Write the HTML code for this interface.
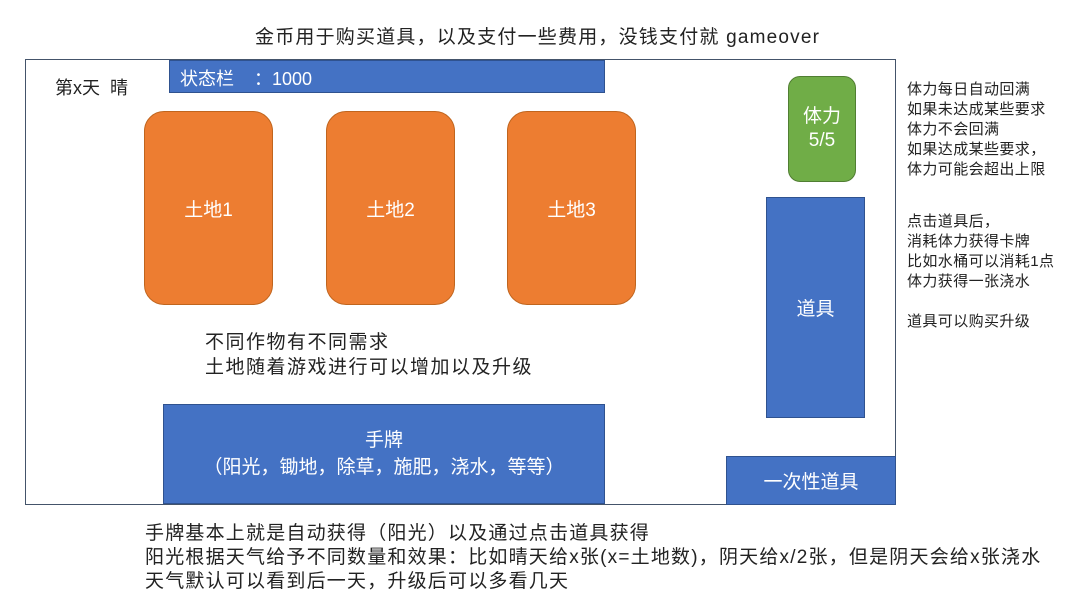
<!DOCTYPE html>
<html><head><meta charset="utf-8"><style>
body{margin:0;width:1080px;height:605px;background:#fff;font-family:"Liberation Sans","Noto Sans CJK SC",sans-serif;position:relative;overflow:hidden;color:#222}
div{position:absolute;box-sizing:border-box}
.t{white-space:nowrap}
.c{display:flex;align-items:center;justify-content:center;text-align:center;color:#fff}
.or{background:#ED7D31;border:1px solid #c0651e;border-radius:20px;font-size:19px}
.bl{background:#4472C4;border:1px solid #2f528f}
</style></head><body>
<div class="t" style="left:255px;top:22px;font-size:19px;letter-spacing:1.2px">金币用于购买道具，以及支付一些费用，没钱支付就 gameover</div>
<div style="left:25px;top:59px;width:871px;height:446px;border:1px solid #44546a"></div>
<div class="t" style="left:55px;top:74px;font-size:18px">第x天&nbsp; 晴</div>
<div class="bl t" style="left:169px;top:60px;width:436px;height:33px;color:#fff;font-size:18px;padding:4px 0 0 10px">状态栏&nbsp;&nbsp;&nbsp; ：1000</div>
<div class="or c" style="left:144px;top:111px;width:129px;height:194px">土地1</div>
<div class="or c" style="left:326px;top:111px;width:129px;height:194px">土地2</div>
<div class="or c" style="left:507px;top:111px;width:129px;height:194px">土地3</div>
<div class="c" style="left:788px;top:76px;width:68px;height:106px;background:#70AD47;border:1px solid #507e32;border-radius:12px;font-size:19px;line-height:24px">体力<br>5/5</div>
<div class="bl c" style="left:766px;top:197px;width:99px;height:221px;font-size:19px">道具</div>
<div class="t" style="left:205px;top:330px;font-size:19px;line-height:25px;letter-spacing:1.5px">不同作物有不同需求<br>土地随着游戏进行可以增加以及升级</div>
<div class="bl c" style="left:163px;top:404px;width:442px;height:100px;font-size:19px;line-height:27px">手牌<br>（阳光，锄地，除草，施肥，浇水，等等）</div>
<div class="bl c" style="left:726px;top:456px;width:170px;height:49px;font-size:19px">一次性道具</div>
<div class="t" style="left:907px;top:80px;font-size:15px;line-height:20px;letter-spacing:0.4px">体力每日自动回满<br>如果未达成某些要求<br>体力不会回满<br>如果达成某些要求，<br>体力可能会超出上限</div>
<div class="t" style="left:907px;top:212px;font-size:15px;line-height:20px;letter-spacing:0.4px">点击道具后，<br>消耗体力获得卡牌<br>比如水桶可以消耗1点<br>体力获得一张浇水<br><br>道具可以购买升级</div>
<div class="t" style="left:145px;top:522px;font-size:19px;line-height:24px;letter-spacing:1.2px">手牌基本上就是自动获得（阳光）以及通过点击道具获得<br>阳光根据天气给予不同数量和效果：比如晴天给x张(x=土地数)，阴天给x/2张，但是阴天会给x张浇水<br>天气默认可以看到后一天，升级后可以多看几天</div>
</body></html>
